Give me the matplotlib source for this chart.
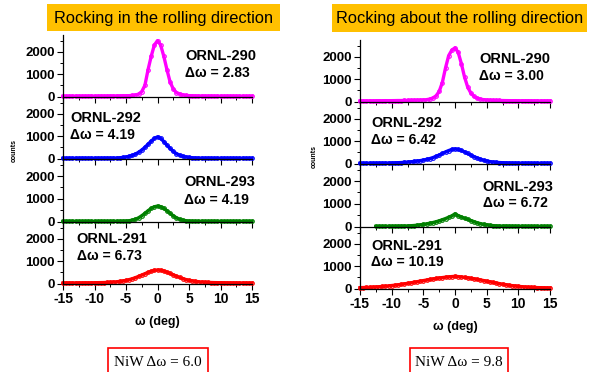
import numpy as np
import matplotlib
matplotlib.use("Agg")
import matplotlib.pyplot as plt
from matplotlib.patches import Rectangle
from matplotlib.ticker import MultipleLocator

plt.rcParams["font.family"] = ["Liberation Sans", "DejaVu Sans"]
plt.rcParams["axes.unicode_minus"] = False

# rocking angle grid (deg)
omega = np.arange(-15, 15.01, 0.5)

# rocking in the rolling direction
rd_290 = [15, 18, 20, 18, 22, 20, 18, 22, 20, 25, 20, 22, 25, 22, 25, 28, 25, 30, 30, 35, 35, 40,
          50, 70, 110, 220, 500, 1200, 1800, 2300, 2500, 2300, 1800, 1200, 650, 340, 180, 120, 70, 50,
          40, 35, 30, 28, 25, 25, 22, 25, 20, 22, 20, 18, 22, 20, 18, 20, 18, 20, 15, 18, 15]
rd_292 = [15, 15, 18, 15, 18, 15, 20, 18, 15, 20, 18, 20, 18, 20, 22, 20, 22,
          25, 35, 50, 70, 100, 140, 200, 280, 380, 500, 640, 780, 900, 970, 900, 760, 600, 450, 320,
          220, 150, 100, 70, 50, 35, 28, 22,
          20, 18, 20, 18, 15, 18, 15, 18, 15, 15, 18, 15, 15, 18, 15, 15, 15]
rd_293 = [10, 12, 10, 15, 10, 12, 10, 12, 15, 10, 12, 10, 15, 12, 10, 12, 15, 12, 15, 18,
          22, 35, 60, 100, 165, 255, 360, 475, 580, 650, 680, 650, 580, 475, 360, 255, 165, 100, 60, 35, 22,
          18, 15, 12, 15, 12, 10, 12, 15, 10, 12, 10, 12, 10, 12, 10, 12, 10, 12, 10, 10]
rd_291 = [25, 28, 30, 28, 30, 32, 30, 35, 32, 35, 38, 40, 42, 45,
          50, 58, 68, 80, 95, 115, 140, 175, 215, 265, 320, 380, 440, 500, 550, 590, 605, 595, 560, 510,
          450, 390, 330, 275, 225, 180, 145, 118, 98, 82, 70, 60, 52,
          46, 42, 40, 38, 35, 33, 32, 30, 30, 28, 28, 26, 25, 25]

# rocking about the rolling direction
td_290 = [30, 32, 30, 35, 32, 35, 38, 35, 40, 38, 40, 42, 45, 45, 50, 50, 55, 58, 60, 65, 70,
          85, 110, 160, 250, 450, 850, 1500, 2050, 2300, 2400, 2200, 1700, 1100, 650, 380, 230, 150, 110, 85,
          70, 62, 55, 50, 48, 45, 42, 40, 38, 40, 36, 35, 34, 35, 32, 30, 32, 30, 28, 30, 28]
td_292 = [15, 18, 15, 18, 20, 18, 20, 22, 20, 25,
          28, 32, 38, 45, 55, 65, 78, 92, 110, 130, 155, 185, 220, 265, 320, 380, 450, 520, 580, 630, 650,
          630, 585, 520, 450, 375, 310, 250, 195, 150, 115, 88, 68, 55, 45, 38, 32, 28, 25, 22, 20,
          20, 18, 20, 18, 15, 18, 15, 18, 15, 15]
td_293 = [np.nan] * 5 + [10, 12, 10, 12, 15, 12, 15, 18, 20, 22, 28,
          35, 45, 58, 75, 95, 118, 145, 175, 210, 250, 300, 350, 410, 470, 560, 480, 420, 365, 315, 265,
          215, 165, 130, 100, 75, 55, 40, 30, 25,
          20, 22, 18, 15, 15, 12, 15, 12, 10, 12, 10, 12, 10, 10, 12, 10]
td_291 = [40, 45, 50, 55, 62, 70, 80, 92, 105, 120, 135, 150, 168, 188, 210, 232, 255, 280, 305, 330,
          355, 380, 405, 428, 450, 470, 490, 508, 522, 535, 545, 535, 520, 500, 480, 458, 435, 410, 385,
          358, 330, 302, 275, 248, 222, 198, 175, 152, 132, 115, 100, 85, 72, 62, 55, 48, 42, 38, 35, 32, 30]

samples = ["ORNL-290", "ORNL-292", "ORNL-293", "ORNL-291"]
colors = ["#ff00ff", "#0000ff", "#008000", "#ff0000"]
rd_series = [rd_290, rd_292, rd_293, rd_291]
td_series = [td_290, td_292, td_293, td_291]
rd_fwhm = ["2.83", "4.19", "4.19", "6.73"]
td_fwhm = ["3.00", "6.42", "6.72", "10.19"]

# label anchors (x in deg, y of the two baselines in counts)
rd_label_pos = [(4.4, 1640, 885), (-13.9, 1650, 870), (4.2, 1560, 780), (-12.8, 1830, 1050)]
td_label_pos = [(3.8, 1710, 970), (-13.2, 1650, 885), (4.4, 1580, 840), (-13.2, 1725, 990)]

W, H = 595, 372
fig = plt.figure(figsize=(W / 100, H / 100), dpi=100)


def px_axes(x0, y0, x1, y1):
    return fig.add_axes([x0 / W, 1 - y1 / H, (x1 - x0) / W, (y1 - y0) / H])


def stack(x0, x1, edges, series, fwhm, label_pos, counts_xy):
    for i in range(4):
        ax = px_axes(x0, edges[i], x1, edges[i + 1])
        ax.patch.set_visible(False)
        ax.plot(omega, series[i], color=colors[i], lw=2.4, marker="o", ms=2.6,
                mfc="none", mew=0.8, clip_on=False)
        ax.set_xlim(-15, 15)
        ax.set_ylim(-20, 2750)
        for s in ("top", "right"):
            ax.spines[s].set_visible(False)
        for s in ("left", "bottom"):
            ax.spines[s].set_linewidth(0.9)
        ax.xaxis.set_major_locator(MultipleLocator(5))
        ax.xaxis.set_minor_locator(MultipleLocator(2.5))
        ax.yaxis.set_major_locator(MultipleLocator(1000))
        ax.yaxis.set_minor_locator(MultipleLocator(500))
        ax.tick_params(which="major", direction="out", length=4, width=0.8, pad=2)
        ax.tick_params(which="minor", direction="out", length=2.5, width=0.7)
        ax.tick_params(axis="y", labelsize=9.5)
        ax.tick_params(axis="x", labelsize=10)
        for t in ax.get_yticklabels() + ax.get_xticklabels():
            t.set_fontweight("bold")
        if i < 3:
            ax.tick_params(axis="x", labelbottom=False)
        lx, ly1, ly2 = label_pos[i]
        ax.text(lx, ly1, samples[i], fontsize=10.5, fontweight="bold", va="baseline")
        ax.text(lx, ly2, "\u0394\u03c9 = " + fwhm[i], fontsize=10, fontweight="bold", va="baseline")
        if i == 3:
            ax.set_xlabel("\u03c9 (deg)", fontsize=9, fontweight="bold", labelpad=7)
    fig.text(counts_xy[0] / W, 1 - counts_xy[1] / H, "counts", rotation=90, fontsize=5,
             fontweight="bold", ha="center", va="center")


stack(63, 252, [35, 97, 159, 222, 284], rd_series, rd_fwhm, rd_label_pos, (14, 150))
stack(360, 550, [40, 102, 164, 227, 289], td_series, td_fwhm, td_label_pos, (314, 156))


def fig_box(x0, y0, x1, y1, text, face, edge, lw, fontsize, family, yc):
    fig.patches.append(Rectangle((x0 / W, 1 - y1 / H), (x1 - x0) / W, (y1 - y0) / H,
                                 transform=fig.transFigure, facecolor=face, edgecolor=edge,
                                 lw=lw, clip_on=False))
    fig.text((x0 + x1) / 2 / W, 1 - yc / H, text, ha="center", va="center",
             fontsize=fontsize, family=family)


fig_box(47, 4, 280, 31, "Rocking in the rolling direction", "#ffc000", "none", 0, 11.8,
        ["Liberation Sans"], 18)
fig_box(332, 4, 587, 32, "Rocking about the rolling direction", "#ffc000", "none", 0, 11.8,
        ["Liberation Sans"], 18.5)
fig_box(108, 348, 208, 385, "NiW \u0394\u03c9 = 6.0", "white", "#ff0000", 1.2, 11,
        ["Liberation Serif", "DejaVu Serif"], 362)
fig_box(410, 348, 508, 385, "NiW \u0394\u03c9 = 9.8", "white", "#ff0000", 1.2, 11,
        ["Liberation Serif", "DejaVu Serif"], 362)

fig.savefig("out.png", dpi=100)
